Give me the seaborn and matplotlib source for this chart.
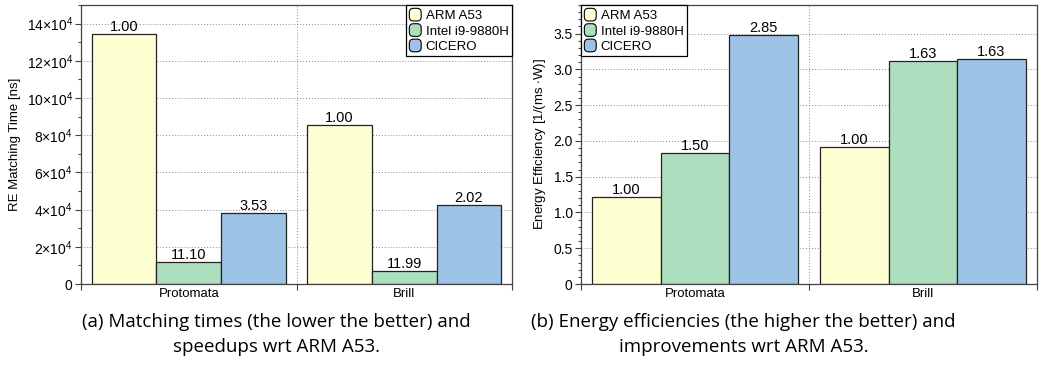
import numpy as np
import pandas as pd
import matplotlib
matplotlib.use("Agg")
import matplotlib.pyplot as plt
import seaborn as sns
from matplotlib.patches import FancyBboxPatch
from matplotlib.legend_handler import HandlerPatch
from matplotlib.ticker import FixedLocator, MultipleLocator, FuncFormatter

benchmarks = ["Protomata", "Brill"]
platforms = ["ARM A53", "Intel i9-9880H", "CICERO"]
colors = ["#FFFFD4", "#ADDFBF", "#9DC3E6"]

# matching time [ns], per platform, per benchmark
time_arm = [134500, 85500]
time_intel = [12100, 7130]
time_cicero = [38100, 42300]
speedup_labels = [["1.00", "1.00"], ["11.10", "11.99"], ["3.53", "2.02"]]

# energy efficiency [1/(ms W)]
eff_arm = [1.22, 1.92]
eff_intel = [1.83, 3.12]
eff_cicero = [3.48, 3.14]
improv_labels = [["1.00", "1.00"], ["1.50", "1.63"], ["2.85", "1.63"]]

sns.set_theme(style="white")
plt.rcParams["font.family"] = ["Liberation Sans", "DejaVu Sans"]
plt.rcParams["mathtext.fontset"] = "custom"
plt.rcParams["mathtext.rm"] = "Liberation Sans"
plt.rcParams["mathtext.it"] = "Liberation Sans"
for key in ["text.color", "axes.labelcolor", "xtick.labelcolor", "ytick.labelcolor"]:
    plt.rcParams[key] = "black"


def make_df(a, b, c):
    rows = []
    for p, vals in zip(platforms, [a, b, c]):
        for bm, v in zip(benchmarks, vals):
            rows.append({"bench": bm, "platform": p, "value": v})
    return pd.DataFrame(rows)


class RoundHandler(HandlerPatch):
    def create_artists(self, legend, orig_handle, xdescent, ydescent,
                       width, height, fontsize, trans):
        p = FancyBboxPatch((-xdescent, -ydescent), width, height,
                           boxstyle="round,pad=0,rounding_size=3",
                           facecolor=orig_handle.get_facecolor(),
                           edgecolor="black", linewidth=0.8, transform=trans)
        return [p]


def style_ax(ax, labels, ylim, major, minor, fmt, ylabel, legend_loc):
    ax.set_xlim(-0.5, 1.5)
    ax.set_ylim(*ylim)
    ax.set_xlabel("")
    ax.set_ylabel(ylabel, fontsize=9.5, labelpad=4)
    ax.xaxis.set_major_locator(FixedLocator([-0.5, 0.5, 1.5]))
    ax.xaxis.set_major_formatter(FuncFormatter(lambda v, p: ""))
    ax.xaxis.set_minor_locator(FixedLocator([0, 1]))
    ax.set_xticklabels(benchmarks, minor=True)
    ax.tick_params(axis="x", which="major", direction="out", length=4,
                   width=0.8, color="#444444", bottom=True)
    ax.tick_params(axis="x", which="minor", length=0, labelsize=9.5, pad=3)
    ax.yaxis.set_major_locator(MultipleLocator(major))
    ax.yaxis.set_minor_locator(MultipleLocator(minor))
    ax.yaxis.set_major_formatter(FuncFormatter(fmt))
    ax.tick_params(axis="y", which="major", direction="out", length=4,
                   width=0.8, color="#444444", labelsize=10, left=True, pad=2)
    ax.tick_params(axis="y", which="minor", direction="out", length=2,
                   width=0.8, color="#444444", left=True)
    ax.grid(True, axis="y", which="major", linestyle=(0, (1, 2)),
            color="#888888", linewidth=0.7)
    ax.grid(True, axis="x", which="major", linestyle=(0, (1, 2)),
            color="#888888", linewidth=0.7)
    ax.set_axisbelow(True)
    for s in ax.spines.values():
        s.set_color("#444444")
        s.set_linewidth(0.9)
    for cont, labs in zip(ax.containers, labels):
        ax.bar_label(cont, labels=labs, fontsize=10.5, padding=0)
    handles = ax.get_legend_handles_labels()
    ax.legend(handles[0], handles[1], loc=legend_loc, borderaxespad=0,
              fontsize=9.5, fancybox=False, edgecolor="black", framealpha=1,
              handlelength=0.9, handleheight=1.1, handletextpad=0.35,
              labelspacing=0.12, borderpad=0.25,
              handler_map={matplotlib.patches.Rectangle: RoundHandler()})
    ax.get_legend().get_frame().set_linewidth(0.9)


fig = plt.figure(figsize=(10.4, 3.86), dpi=100)
ax1 = fig.add_axes([0.0779, 0.2642, 0.4144, 0.7228])
ax2 = fig.add_axes([0.5587, 0.2642, 0.4385, 0.7228])

df1 = make_df(time_arm, time_intel, time_cicero)
sns.barplot(data=df1, x="bench", y="value", hue="platform", palette=colors,
            width=0.9, gap=0, edgecolor="#222222", linewidth=0.9,
            saturation=1, ax=ax1)


def sci_fmt(v, p):
    k = int(round(v / 1e4))
    if k == 0:
        return "0"
    return r"$%d{\times}10^4$" % k


style_ax(ax1, speedup_labels, (0, 150000), 20000, 10000, sci_fmt,
         "RE Matching Time [ns]", "upper right")

df2 = make_df(eff_arm, eff_intel, eff_cicero)
sns.barplot(data=df2, x="bench", y="value", hue="platform", palette=colors,
            width=0.9, gap=0, edgecolor="#222222", linewidth=0.9,
            saturation=1, ax=ax2)
style_ax(ax2, improv_labels, (0, 3.9), 0.5, 0.1,
         lambda v, p: "0" if abs(v) < 1e-9 else "%.1f" % v,
         "Energy Efficiency [1/(ms $\\cdot$W)]", "upper left")

cap_font = ["Open Sans", "DejaVu Sans"]
fig.text(0.266, 0.166, "(a) Matching times (the lower the better) and",
         ha="center", va="center", fontsize=13.5, family=cap_font)
fig.text(0.266, 0.10, "speedups wrt ARM A53.",
         ha="center", va="center", fontsize=13.5, family=cap_font)
fig.text(0.715, 0.166, "(b) Energy efficiencies (the higher the better) and",
         ha="center", va="center", fontsize=13.5, family=cap_font)
fig.text(0.715, 0.10, "improvements wrt ARM A53.",
         ha="center", va="center", fontsize=13.5, family=cap_font)

fig.savefig("out.png", dpi=100)
